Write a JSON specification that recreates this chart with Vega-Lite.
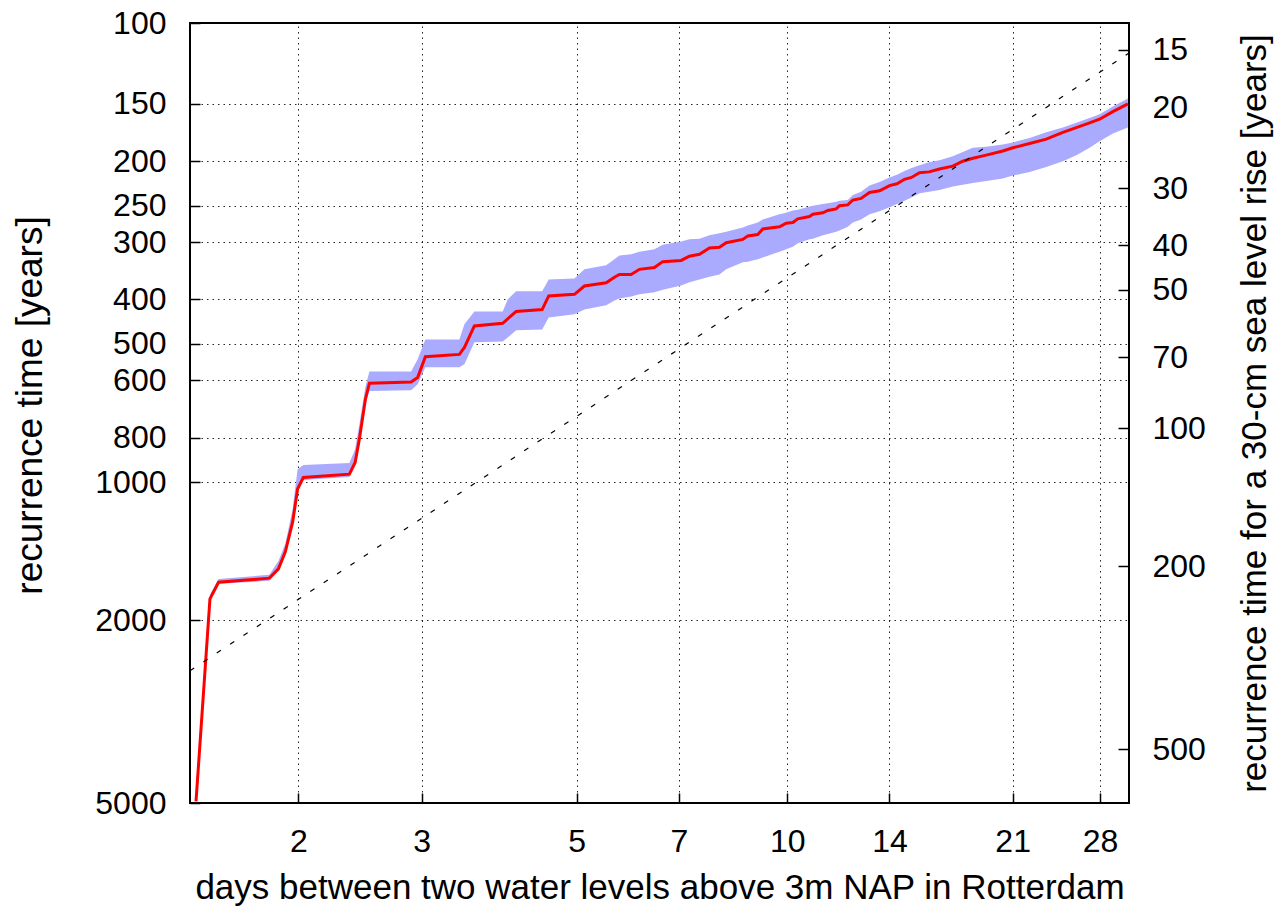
{
  "$schema": "https://vega.github.io/schema/vega-lite/v6.json",
  "width": 939,
  "height": 780,
  "autosize": {"type": "none"},
  "padding": {"left": 190, "top": 23, "right": 150, "bottom": 108},
  "background": "white",
  "config": {
    "font": "Liberation Sans",
    "view": {"stroke": "#000", "strokeWidth": 2},
    "axis": {
      "labelFont": "Liberation Sans",
      "titleFont": "Liberation Sans",
      "labelFontSize": 32,
      "titleFontSize": 35,
      "titleFontWeight": "normal",
      "labelColor": "#000",
      "titleColor": "#000",
      "domain": false,
      "tickColor": "#000",
      "tickSize": -10,
      "tickWidth": 1.5,
      "gridColor": "#000",
      "gridDash": [1.5, 4],
      "gridOpacity": 0.85,
      "gridWidth": 1,
      "labelFlush": false,
      "labelOverlap": false
    }
  },
  "layer": [
    {
      "data": {
        "values": [
          {"d": 1.428, "rec": 4958, "lo": 4884, "hi": 4958},
          {"d": 1.495, "rec": 1796, "lo": 1760, "hi": 1814},
          {"d": 1.538, "rec": 1652, "lo": 1625, "hi": 1666},
          {"d": 1.818, "rec": 1619, "lo": 1592, "hi": 1641},
          {"d": 1.873, "rec": 1545, "lo": 1485, "hi": 1561},
          {"d": 1.916, "rec": 1419, "lo": 1363, "hi": 1434},
          {"d": 1.963, "rec": 1221, "lo": 1144, "hi": 1234},
          {"d": 1.995, "rec": 1035, "lo": 937, "hi": 1046},
          {"d": 2.033, "rec": 977, "lo": 918, "hi": 990},
          {"d": 2.366, "rec": 961, "lo": 909, "hi": 975},
          {"d": 2.411, "rec": 906, "lo": 848, "hi": 918},
          {"d": 2.445, "rec": 806, "lo": 748, "hi": 818},
          {"d": 2.494, "rec": 660, "lo": 621, "hi": 677},
          {"d": 2.527, "rec": 609, "lo": 574, "hi": 633},
          {"d": 2.899, "rec": 605, "lo": 574, "hi": 631},
          {"d": 2.962, "rec": 592, "lo": 540, "hi": 612},
          {"d": 3.038, "rec": 533, "lo": 489, "hi": 562},
          {"d": 3.398, "rec": 527, "lo": 489, "hi": 562},
          {"d": 3.455, "rec": 509, "lo": 453, "hi": 554},
          {"d": 3.570, "rec": 457, "lo": 425, "hi": 496},
          {"d": 3.919, "rec": 451, "lo": 425, "hi": 494},
          {"d": 3.984, "rec": 441, "lo": 400, "hi": 484},
          {"d": 4.096, "rec": 425, "lo": 384, "hi": 467},
          {"d": 4.462, "rec": 421, "lo": 384, "hi": 465},
          {"d": 4.560, "rec": 393, "lo": 362, "hi": 438},
          {"d": 4.963, "rec": 390, "lo": 360, "hi": 431},
          {"d": 5.129, "rec": 374, "lo": 344, "hi": 421},
          {"d": 5.509, "rec": 368, "lo": 337, "hi": 412},
          {"d": 5.661, "rec": 358, "lo": 327, "hi": 402},
          {"d": 5.755, "rec": 353, "lo": 321, "hi": 398},
          {"d": 5.981, "rec": 353, "lo": 319, "hi": 394},
          {"d": 6.147, "rec": 344, "lo": 315, "hi": 390},
          {"d": 6.458, "rec": 341, "lo": 311, "hi": 386},
          {"d": 6.637, "rec": 331, "lo": 304, "hi": 381},
          {"d": 7.052, "rec": 329, "lo": 299, "hi": 373},
          {"d": 7.247, "rec": 322, "lo": 296, "hi": 367},
          {"d": 7.490, "rec": 319, "lo": 295, "hi": 362},
          {"d": 7.741, "rec": 309, "lo": 290, "hi": 357},
          {"d": 8.000, "rec": 308, "lo": 287, "hi": 353},
          {"d": 8.178, "rec": 301, "lo": 285, "hi": 344},
          {"d": 8.638, "rec": 296, "lo": 279, "hi": 332},
          {"d": 8.781, "rec": 291, "lo": 276, "hi": 331},
          {"d": 9.075, "rec": 289, "lo": 272, "hi": 327},
          {"d": 9.225, "rec": 281, "lo": 268, "hi": 324},
          {"d": 9.747, "rec": 278, "lo": 261, "hi": 315},
          {"d": 9.965, "rec": 273, "lo": 259, "hi": 311},
          {"d": 10.183, "rec": 272, "lo": 256, "hi": 307},
          {"d": 10.353, "rec": 267, "lo": 255, "hi": 302},
          {"d": 10.759, "rec": 264, "lo": 251, "hi": 296},
          {"d": 10.877, "rec": 261, "lo": 250, "hi": 295},
          {"d": 11.241, "rec": 259, "lo": 248, "hi": 290},
          {"d": 11.427, "rec": 256, "lo": 247, "hi": 288},
          {"d": 11.748, "rec": 254, "lo": 245, "hi": 285},
          {"d": 11.876, "rec": 250, "lo": 244, "hi": 283},
          {"d": 12.205, "rec": 249, "lo": 243, "hi": 278},
          {"d": 12.408, "rec": 243, "lo": 237, "hi": 272},
          {"d": 12.75, "rec": 241, "lo": 233, "hi": 268},
          {"d": 13.110, "rec": 234, "lo": 226, "hi": 261},
          {"d": 13.55, "rec": 232, "lo": 222, "hi": 257},
          {"d": 14.001, "rec": 226, "lo": 217, "hi": 252},
          {"d": 14.35, "rec": 224, "lo": 214, "hi": 248},
          {"d": 14.710, "rec": 219, "lo": 210, "hi": 244},
          {"d": 15.05, "rec": 217, "lo": 207, "hi": 240},
          {"d": 15.455, "rec": 212, "lo": 204, "hi": 235},
          {"d": 15.95, "rec": 211, "lo": 201, "hi": 233},
          {"d": 16.506, "rec": 208, "lo": 199, "hi": 231},
          {"d": 17.245, "rec": 205, "lo": 195, "hi": 227},
          {"d": 17.822, "rec": 200, "lo": 191, "hi": 225},
          {"d": 18.420, "rec": 197, "lo": 187, "hi": 223},
          {"d": 19.251, "rec": 194, "lo": 186, "hi": 221},
          {"d": 20.333, "rec": 190, "lo": 184, "hi": 218},
          {"d": 21.014, "rec": 187, "lo": 182, "hi": 215},
          {"d": 22.202, "rec": 183, "lo": 178, "hi": 211},
          {"d": 23.457, "rec": 179, "lo": 173, "hi": 206},
          {"d": 24.774, "rec": 173, "lo": 169, "hi": 200},
          {"d": 25.893, "rec": 169, "lo": 165, "hi": 194},
          {"d": 27.052, "rec": 165, "lo": 161, "hi": 187},
          {"d": 27.958, "rec": 162, "lo": 158, "hi": 181},
          {"d": 29.209, "rec": 156, "lo": 152, "hi": 174},
          {"d": 30.688, "rec": 150, "lo": 146, "hi": 169}
        ]
      },
      "encoding": {
        "x": {
          "field": "d",
          "type": "quantitative",
          "scale": {"type": "log", "domain": [1.4, 30.8], "nice": false},
          "axis": {
            "values": [2, 3, 5, 7, 10, 14, 21, 28],
            "format": "d",
            "labelPadding": 33,
            "title": "days between two water levels above 3m NAP in Rotterdam",
            "titleX": 469.5,
            "titleY": 95,
            "titleAlign": "center",
            "titleBaseline": "alphabetic"
          }
        }
      },
      "layer": [
        {
          "mark": {"type": "area", "color": "#aaaaff", "opacity": 1, "clip": true},
          "encoding": {
            "y": {
              "field": "lo",
              "type": "quantitative",
              "scale": {"type": "log", "domain": [100, 5000], "reverse": true, "nice": false},
              "axis": {
                "values": [100, 150, 200, 250, 300, 400, 500, 600, 800, 1000, 2000, 5000],
                "format": "d",
                "labelPadding": 34,
                "title": "recurrence time [years]",
                "titleFontSize": 37,
                "titleAngle": 270,
                "titleX": -149,
                "titleY": 382,
                "titleAlign": "center",
                "titleBaseline": "alphabetic"
              }
            },
            "y2": {"field": "hi"}
          }
        },
        {
          "mark": {"type": "line", "color": "#ff0000", "strokeWidth": 3, "clip": true},
          "encoding": {
            "y": {"field": "rec", "type": "quantitative"}
          }
        }
      ]
    },
    {
      "data": {
        "values": [
          {"d": 1.4, "r": 337.5},
          {"d": 30.8, "r": 15.23}
        ]
      },
      "mark": {"type": "line", "color": "#000", "strokeWidth": 1.2, "strokeDash": [5, 11], "clip": true},
      "encoding": {
        "x": {"field": "d", "type": "quantitative"},
        "y": {
          "field": "r",
          "type": "quantitative",
          "scale": {"type": "log", "domain": [13.106, 655.3], "reverse": true, "nice": false},
          "axis": {
            "orient": "right",
            "values": [15, 20, 30, 40, 50, 70, 100, 200, 500],
            "format": "d",
            "grid": false,
            "tickSize": -11,
            "labelPadding": 34,
            "title": "recurrence time for a 30-cm sea level rise [years]",
            "titleAngle": 270,
            "titleX": 136,
            "titleY": 390,
            "titleAlign": "center",
            "titleBaseline": "alphabetic"
          }
        }
      }
    }
  ],
  "resolve": {"scale": {"y": "independent"}, "axis": {"y": "independent"}}
}
